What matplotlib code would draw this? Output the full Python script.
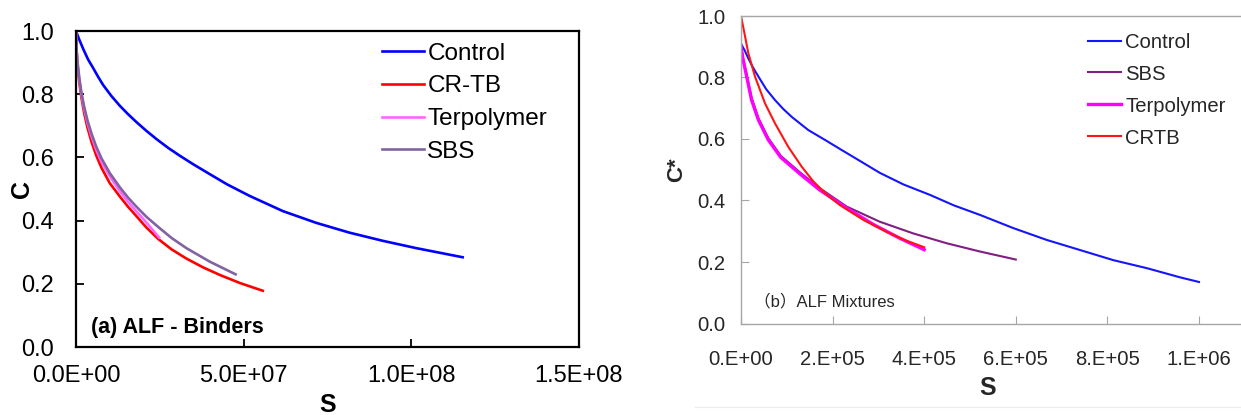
import matplotlib
matplotlib.use("Agg")
import matplotlib.pyplot as plt
from matplotlib.lines import Line2D

plt.rcParams['font.family'] = ['Liberation Sans', 'Noto Sans CJK SC', 'DejaVu Sans']

# (a) binders: damage S vs pseudo stiffness C
binder_control_S = [0, 1e6, 2.2e6, 3.6e6, 5.16e6, 6.6e6, 8.1e6, 1.05e7, 1.31e7, 1.55e7,
                    1.81e7, 2.1e7, 2.4e7, 2.75e7, 3.1e7, 3.5e7, 3.99e7, 4.5e7, 5.18e7,
                    6.17e7, 7.16e7, 8.15e7, 9.15e7, 1.014e8, 1.153e8]
binder_control_C = [1.0, 0.972, 0.942, 0.91, 0.882, 0.855, 0.829, 0.795, 0.763, 0.737,
                    0.711, 0.684, 0.658, 0.63, 0.605, 0.578, 0.547, 0.515, 0.478,
                    0.43, 0.393, 0.362, 0.336, 0.313, 0.284]

binder_crtb_S = [0, 2e5, 5e5, 1e6, 1.6e6, 2.4e6, 3.4e6, 4.6e6, 6.0e6, 7.6e6, 1.01e7,
                 1.31e7, 1.55e7, 1.81e7, 2.1e7, 2.45e7, 2.85e7, 3.29e7, 3.79e7, 4.29e7,
                 4.9e7, 5.57e7]
binder_crtb_C = [1.0, 0.93, 0.885, 0.835, 0.79, 0.742, 0.695, 0.65, 0.607, 0.567, 0.518,
                 0.476, 0.444, 0.413, 0.378, 0.342, 0.309, 0.280, 0.252, 0.228,
                 0.202, 0.178]

binder_terp_S = [0, 2e5, 5e5, 1e6, 1.6e6, 2.4e6, 3.4e6, 4.6e6, 6.0e6, 7.6e6, 1.01e7,
                 1.31e7, 1.55e7, 1.81e7, 2.1e7, 2.48e7]
binder_terp_C = [1.0, 0.935, 0.893, 0.845, 0.80, 0.755, 0.71, 0.667, 0.625, 0.586, 0.54,
                 0.493, 0.46, 0.428, 0.394, 0.346]

binder_sbs_S = [0, 2e5, 5e5, 1e6, 1.6e6, 2.4e6, 3.4e6, 4.6e6, 6.0e6, 7.6e6, 1.01e7,
                1.31e7, 1.55e7, 1.81e7, 2.1e7, 2.45e7, 2.85e7, 3.29e7, 3.99e7, 4.76e7]
binder_sbs_C = [1.0, 0.938, 0.897, 0.85, 0.806, 0.762, 0.718, 0.676, 0.635, 0.597, 0.55,
                0.505, 0.473, 0.443, 0.412, 0.38, 0.345, 0.313, 0.27, 0.230]

# (b) mixtures
mix_control_S = [0, 8e3, 1.6e4, 2.6e4, 3.8e4, 5.5e4, 7.4e4, 9.2e4, 1.107e5, 1.47e5,
                 1.834e5, 2.2e5, 2.56e5, 3.03e5, 3.55e5, 4.13e5, 4.65e5, 5.22e5,
                 5.95e5, 6.67e5, 7.4e5, 8.13e5, 8.86e5, 9.59e5, 1.0e6]
mix_control_C = [0.91, 0.888, 0.862, 0.833, 0.803, 0.762, 0.727, 0.698, 0.672, 0.629,
                 0.597, 0.564, 0.532, 0.490, 0.452, 0.418, 0.384, 0.353,
                 0.310, 0.272, 0.239, 0.206, 0.180, 0.150, 0.135]

mix_sbs_S = [0, 5e3, 1.24e4, 2.3e4, 3.8e4, 5.96e4, 8.7e4, 1.3e5, 1.72e5, 2.31e5,
             3.03e5, 3.76e5, 4.49e5, 5.22e5, 6.0e5]
mix_sbs_C = [0.90, 0.858, 0.81, 0.735, 0.668, 0.603, 0.545, 0.49, 0.44, 0.38,
             0.331, 0.293, 0.261, 0.234, 0.208]

mix_terp_S = [0, 5e3, 1.24e4, 2.3e4, 3.8e4, 5.96e4, 8.7e4, 1.3e5, 1.72e5, 2.31e5,
              2.89e5, 3.47e5, 4.0e5]
mix_terp_C = [0.90, 0.855, 0.803, 0.727, 0.662, 0.597, 0.54, 0.485, 0.434, 0.375,
              0.322, 0.277, 0.240]

mix_crtb_S = [0, 8.7e3, 1.6e4, 3.06e4, 5.24e4, 7.42e4, 1.03e5, 1.325e5, 1.58e5, 1.85e5,
              2.16e5, 2.67e5, 3.25e5, 3.6e5, 4.0e5]
mix_crtb_C = [1.0, 0.935, 0.879, 0.803, 0.716, 0.651, 0.575, 0.51, 0.462, 0.422,
              0.385, 0.337, 0.293, 0.27, 0.248]

binder_xticks = [0, 5e7, 1e8, 1.5e8]
mix_xticks = [0, 2e5, 4e5, 6e5, 8e5, 1e6]
yticks = [0.0, 0.2, 0.4, 0.6, 0.8, 1.0]

fig = plt.figure(figsize=(12.41, 4.15), dpi=100)

# ---- left panel
ax1 = fig.add_axes([76 / 1241, 68 / 415, 503 / 1241, 316 / 415])
ax1.plot(binder_control_S, binder_control_C, color='#0000ff', lw=1.9, label='Control')
ax1.plot(binder_crtb_S, binder_crtb_C, color='#ff0000', lw=1.9, label='CR-TB')
ax1.plot(binder_terp_S, binder_terp_C, color='#ff66ff', lw=1.9, label='Terpolymer')
ax1.plot(binder_sbs_S, binder_sbs_C, color='#8064a2', lw=1.9, label='SBS')
ax1.set_xlim(0, 1.5e8)
ax1.set_ylim(0, 1.0)
ax1.set_xticks(binder_xticks)
ax1.set_xticklabels(['{:.1E}'.format(v) for v in binder_xticks])
ax1.set_yticks(yticks)
ax1.set_yticklabels(['{:.1f}'.format(v) for v in yticks])
ax1.tick_params(direction='in', length=6, width=1.3, labelsize=17, color='black')
ax1.tick_params(axis='y', pad=16)
ax1.tick_params(axis='x', pad=13)
for sp in ax1.spines.values():
    sp.set_linewidth(1.6)
ax1.set_xlabel('S', fontsize=18, fontweight='bold')
ax1.set_ylabel('C', fontsize=18, fontweight='bold')
ax1.xaxis.set_label_coords(0.5, -0.184)
ax1.xaxis.label.set_va('center')
ax1.yaxis.set_label_coords(-0.107, 0.5)
ax1.yaxis.label.set_va('center')
ax1.text(0.03, 0.063, '(a) ALF - Binders', transform=ax1.transAxes,
         fontsize=15.5, fontweight='bold', va='center', ha='left')
ax1.legend(loc='upper left', bbox_to_anchor=(0.608, 0.963), frameon=False,
           fontsize=17.5, handlelength=1.72, handletextpad=0.15,
           labelspacing=0.44, borderpad=0, borderaxespad=0)

# ---- right panel
grey = '#a6a6a6'
ax2 = fig.add_axes([741 / 1241, 91.5 / 415, 500 / 1241, 307.5 / 415])
ax2.plot(mix_control_S, mix_control_C, color='#1414ff', lw=1.5, label='Control')
ax2.plot(mix_sbs_S, mix_sbs_C, color='#801f80', lw=1.5, label='SBS')
ax2.plot(mix_terp_S, mix_terp_C, color='#ff00ff', lw=2.4, label='Terpolymer')
ax2.plot(mix_crtb_S, mix_crtb_C, color='#ff1414', lw=1.5, label='CRTB')
ax2.set_xlim(0, 500 / 458 * 1e6)
ax2.set_ylim(0, 1.0)
ax2.set_xticks(mix_xticks)
ax2.set_xticklabels(['{:#.0E}'.format(v) for v in mix_xticks])
ax2.set_yticks(yticks)
ax2.set_yticklabels(['{:.1f}'.format(v) for v in yticks])
ax2.tick_params(direction='in', length=6, width=0.8, labelsize=14.6,
                color=grey, labelcolor='#262626')
ax2.tick_params(axis='y', pad=11)
ax2.tick_params(axis='x', pad=19)
ax2.spines['right'].set_visible(False)
for name in ['left', 'top', 'bottom']:
    ax2.spines[name].set_color(grey)
    ax2.spines[name].set_linewidth(1.0)
ax2.set_xlabel('S', fontsize=18, fontweight='bold', color='#262626')
ax2.set_ylabel('C*', fontsize=16, fontweight='bold', color='#262626')
ax2.xaxis.set_label_coords(0.494, -0.21)
ax2.xaxis.label.set_va('center')
ax2.yaxis.set_label_coords(-0.128, 0.5)
ax2.yaxis.label.set_va('center')
ax2.text(0.026, 0.07, '（b）ALF Mixtures', transform=ax2.transAxes,
         fontsize=12, color='#262626', va='center', ha='left')
ax2.legend(loc='upper left', bbox_to_anchor=(0.694, 0.946), frameon=False,
           fontsize=14.6, handlelength=1.63, handletextpad=0.2,
           labelspacing=0.64, borderpad=0, borderaxespad=0, labelcolor='#262626')

# faint frame line under the second chart
fig.add_artist(Line2D([0.56, 1.0], [8 / 415, 8 / 415], color='#ececec', lw=0.8))

fig.savefig('out.png', dpi=100)
